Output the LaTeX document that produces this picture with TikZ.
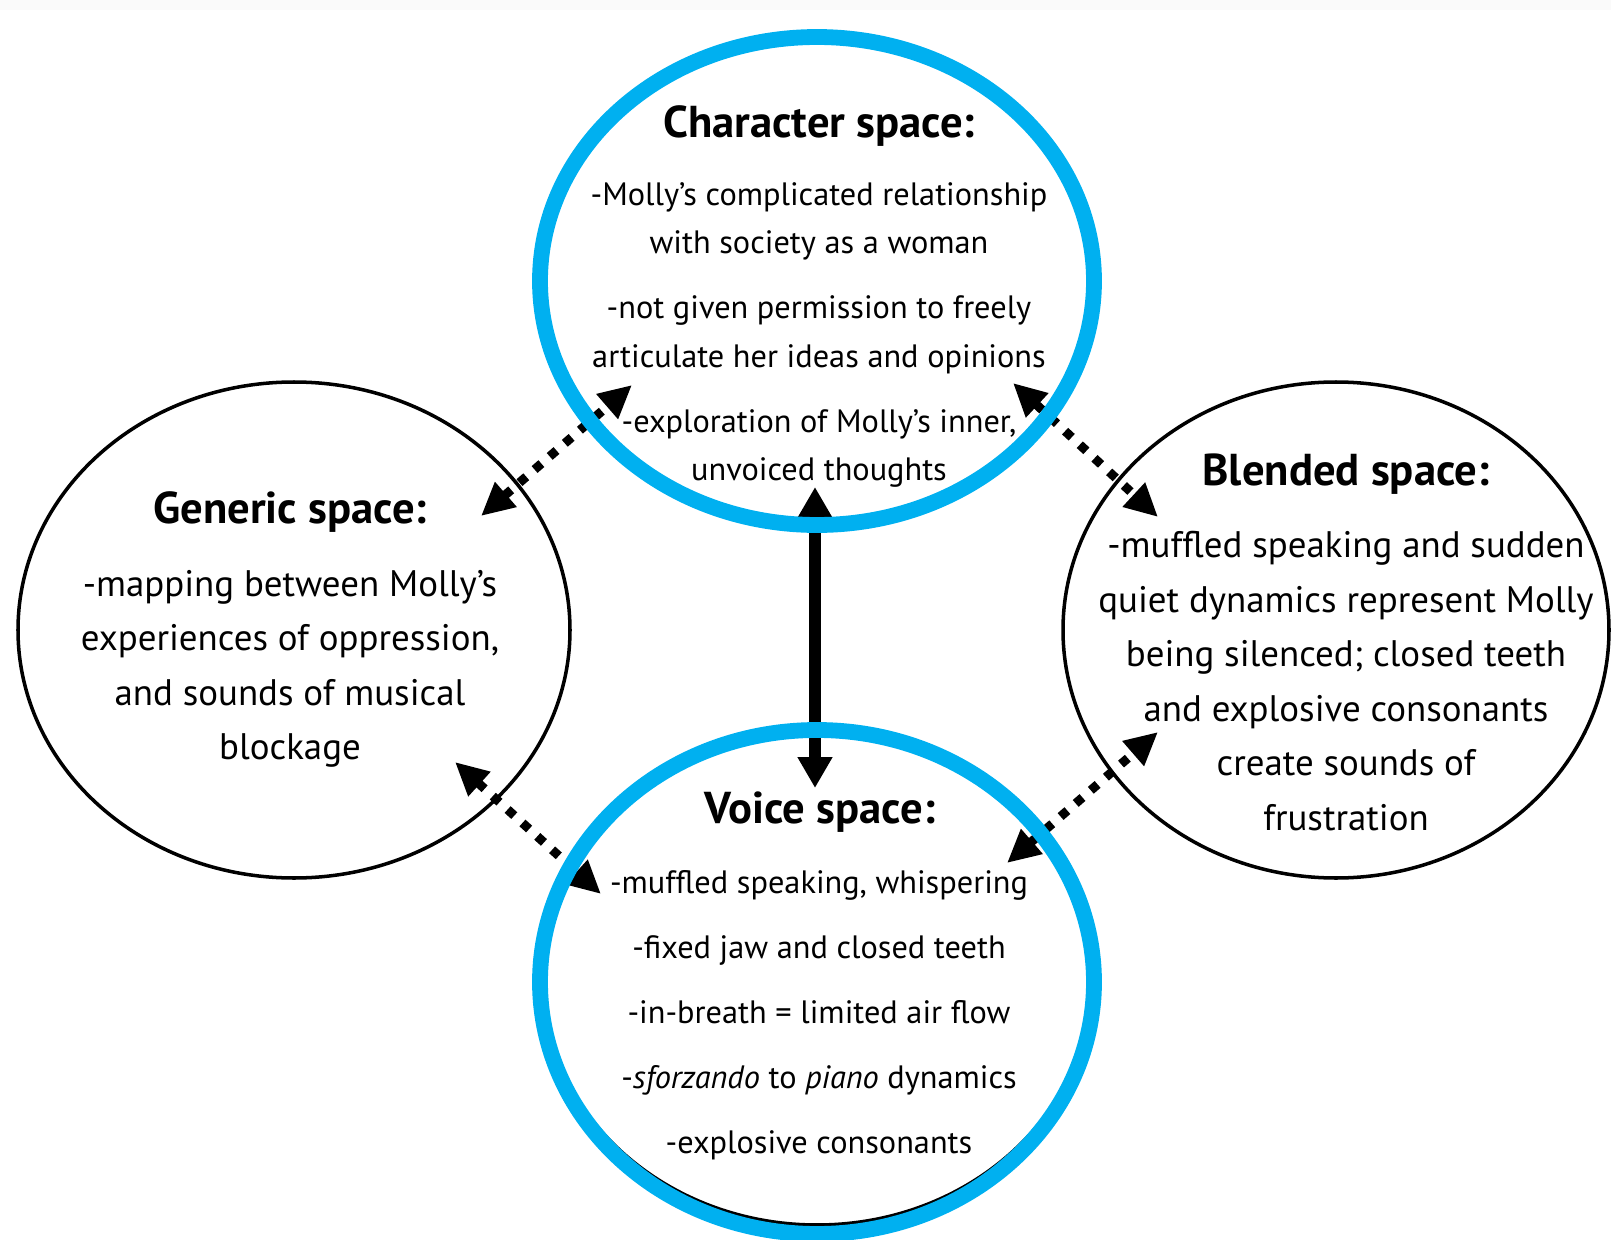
\documentclass[tikz,border=0pt]{standalone}
\usepackage{fontspec}
\setmainfont{PT Sans}
\usepackage{xcolor}
\usepackage{tikz}
\usetikzlibrary{shapes.geometric, arrows.meta, backgrounds}
\definecolor{spBlue}{RGB}{  0,176,240}
\definecolor{spBand}{RGB}{250,250,250}

\begin{document}
\begin{tikzpicture}[x=0.1mm, y=-0.1mm,
    space/.style={draw, ellipse, inner sep=0pt, line width=1pt},
    keyspace/.style={space, draw=spBlue, line width=4.5pt},
    title/.style={font=\fontsize{12.7}{14}\selectfont\bfseries},
    mainbody/.style={align=center, font=\fontsize{9.2}{13.7}\selectfont},
    sidebody/.style={align=center, font=\fontsize{10.5}{15.5}\selectfont},
    link/.style={line width=0.9mm, dash pattern=on 0.9mm off 1.1mm,
                 {Triangle[length=3.3mm, width=3.1mm]}-{Triangle[length=3.3mm, width=3.1mm]}},
    maplink/.style={line width=1.2mm,
                 {Triangle[length=3.1mm, width=3.3mm]}-{Triangle[length=3.1mm, width=3.3mm]}}
  ]
  \useasboundingbox (0,0) rectangle (1611,1240);
  \fill[spBand] (0,0) rectangle (1611,10);

  % the four spaces
  \node[space, minimum width=55.2mm, minimum height=49.6mm] (gen) at (294,630) {};
  \node[space, minimum width=54.6mm, minimum height=49.6mm] (blend) at (1336,630) {};
  \node[space, minimum width=55.0mm, minimum height=49.4mm] (voice-under) at (817,978) {};
  \node[keyspace, minimum width=55.4mm, minimum height=48.8mm] (char) at (817,281) {};
  \node[keyspace, minimum width=55.4mm, minimum height=50.4mm] (voice) at (817,982) {};

  % texts
  \node[title] (char-title) at (819,126) {Character space:};
  \node[mainbody] (char-text) at (819,335) {-Molly’s complicated relationship\\with society as a woman\\[4.8pt]-not given permission to freely\\articulate her ideas and opinions\\[4.8pt]-exploration of Molly’s inner,\\unvoiced thoughts};
  \node[title] (gen-title) at (290,512) {Generic space:};
  \node[sidebody] (gen-text) at (290,669) {-mapping between Molly’s\\experiences of oppression,\\and sounds of musical\\blockage};
  \node[title] (blend-title) at (1346,474) {Blended space:};
  \node[sidebody] (blend-text) at (1346,681) {-muffled speaking and sudden\\quiet dynamics represent Molly\\being silenced; closed teeth\\and explosive consonants\\create sounds of\\frustration};
  \node[title] (voice-title) at (820,812) {Voice space:};
  \node[mainbody, font=\fontsize{9.2}{18.5}\selectfont] (voice-text) at (819,1015) {-muffled speaking, whispering\\-fixed jaw and closed teeth\\-in-breath = limited air flow\\-\textit{sforzando} to \textit{piano} dynamics\\-explosive consonants};

  % arrow ends
  \coordinate (char-l) at (632,385);
  \coordinate (char-r) at (1013,383);
  \coordinate (char-b) at (815,487);
  \coordinate (gen-t) at (481,516);
  \coordinate (gen-b) at (455,762);
  \coordinate (blend-t) at (1158,517);
  \coordinate (blend-b) at (1158,732);
  \coordinate (voice-l) at (601,894);
  \coordinate (voice-r) at (1007,863);
  \coordinate (voice-t) at (815,788);

  \begin{scope}[on background layer]
    \draw[link] (gen-t) -- (char-l);
    \draw[link] (char-r) -- (blend-t);
    \draw[link] (gen-b) -- (voice-l);
    \draw[link] (voice-r) -- (blend-b);
    \draw[maplink] (char-b) -- (voice-t);
  \end{scope}
\end{tikzpicture}
\end{document}
